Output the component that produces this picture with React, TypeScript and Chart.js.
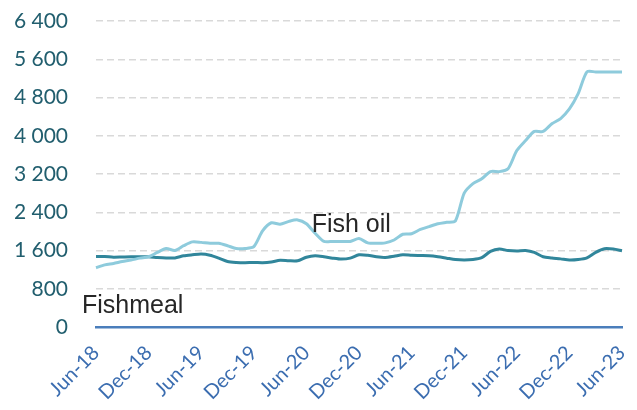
import React, { useEffect, useRef } from "react";
import { Chart, registerables } from "chart.js";

Chart.register(...registerables);

const months: string[] = [
  "Jun-18", "Jul-18", "Aug-18", "Sep-18", "Oct-18", "Nov-18",
  "Dec-18", "Jan-19", "Feb-19", "Mar-19", "Apr-19", "May-19",
  "Jun-19", "Jul-19", "Aug-19", "Sep-19", "Oct-19", "Nov-19",
  "Dec-19", "Jan-20", "Feb-20", "Mar-20", "Apr-20", "May-20",
  "Jun-20", "Jul-20", "Aug-20", "Sep-20", "Oct-20", "Nov-20",
  "Dec-20", "Jan-21", "Feb-21", "Mar-21", "Apr-21", "May-21",
  "Jun-21", "Jul-21", "Aug-21", "Sep-21", "Oct-21", "Nov-21",
  "Dec-21", "Jan-22", "Feb-22", "Mar-22", "Apr-22", "May-22",
  "Jun-22", "Jul-22", "Aug-22", "Sep-22", "Oct-22", "Nov-22",
  "Dec-22", "Jan-23", "Feb-23", "Mar-23", "Apr-23", "May-23",
  "Jun-23",
];

const fishOil: number[] = [
  1240, 1300, 1330, 1370, 1400, 1440,
  1470, 1560, 1640, 1600, 1700, 1780,
  1770, 1750, 1750, 1700, 1640, 1640,
  1680, 2010, 2180, 2150, 2210, 2240,
  2160, 1960, 1790, 1790, 1790, 1790,
  1850, 1760, 1750, 1760, 1820, 1940,
  1950, 2040, 2100, 2160, 2190, 2220,
  2800, 3000, 3100, 3250, 3250, 3310,
  3690, 3900, 4090, 4090, 4250, 4360,
  4560, 4880, 5335, 5335, 5335, 5335,
  5335,
];

const fishmeal: number[] = [
  1475, 1475, 1460, 1465, 1470, 1470,
  1470, 1455, 1445, 1445, 1490, 1510,
  1525, 1500, 1440, 1370, 1350, 1345,
  1350, 1345, 1360, 1395, 1385, 1385,
  1460, 1490, 1470, 1440, 1420, 1440,
  1510, 1500, 1470, 1455, 1480, 1510,
  1500, 1495, 1490, 1470, 1440, 1410,
  1400, 1410, 1450, 1580, 1630, 1600,
  1590, 1600, 1560, 1470, 1445, 1425,
  1400, 1410, 1445, 1560, 1637, 1630,
  1595,
];

const seriesNames: string[] = ["Fish oil", "Fishmeal"];
const annotationX: number[] = [24.6, -1.6];
const annotationY: number[] = [1990, 290];

const yMin = 0;
const yMax = 6400;
const yStep = 800;

function fmt(v: number): string {
  return String(v).replace(/\B(?=(\d{3})+(?!\d))/g, " ");
}

const annotationPlugin = {
  id: "textAnnotations",
  afterDatasetsDraw(chart: any) {
    const { ctx, scales } = chart;
    ctx.save();
    ctx.font = '25px "Liberation Sans", Arial, sans-serif';
    ctx.fillStyle = "#262626";
    ctx.textAlign = "left";
    ctx.textBaseline = "alphabetic";
    seriesNames.forEach((name, i) => {
      const x = scales.x.getPixelForValue(annotationX[i]);
      const y = scales.y.getPixelForValue(annotationY[i]);
      ctx.fillText(name, x, y);
    });
    ctx.restore();
  },
};

export default function App() {
  const canvasRef = useRef<HTMLCanvasElement | null>(null);

  useEffect(() => {
    if (!canvasRef.current) return;
    const chart = new Chart(canvasRef.current, {
      type: "line",
      data: {
        labels: months,
        datasets: [
          {
            label: seriesNames[0],
            data: fishOil,
            borderColor: "#8ecbdc",
            borderWidth: 3,
            pointRadius: 0,
            tension: 0.25,
            fill: false,
          },
          {
            label: seriesNames[1],
            data: fishmeal,
            borderColor: "#31869b",
            borderWidth: 3,
            pointRadius: 0,
            tension: 0.25,
            fill: false,
          },
        ],
      },
      options: {
        animation: false,
        responsive: true,
        maintainAspectRatio: false,
        layout: { padding: { left: 0, right: 15, top: 21, bottom: 0 } },
        plugins: {
          legend: { display: false },
          tooltip: { enabled: false },
        },
        scales: {
          x: {
            type: "category",
            offset: false,
            grid: { display: false, drawTicks: false },
            border: { display: true, color: "#4a7ebb", width: 2.5 },
            ticks: {
              autoSkip: false,
              maxRotation: 45,
              minRotation: 45,
              padding: 14,
              color: "#3b6db0",
              font: { family: "Lato", size: 20 },
              callback: (_v: any, i: number) => (i % 6 === 0 ? months[i] : ""),
            },
            afterFit: (scale: any) => {
              scale.height = 83;
              scale.paddingLeft = 0;
              scale.paddingRight = 0;
              scale.paddingTop = 0;
              scale.paddingBottom = 0;
            },
          },
          y: {
            min: yMin,
            max: yMax,
            grid: {
              color: "#d9d9d9",
              lineWidth: 1.5,
              drawTicks: false,
            },
            border: { display: false, dash: [7, 4] },
            ticks: {
              stepSize: yStep,
              padding: 28,
              color: "#215e6e",
              font: { family: "Lato", size: 21 },
              callback: (v: any) => fmt(Number(v)),
            },
            afterFit: (scale: any) => {
              scale.width = 96;
              scale.paddingTop = 0;
              scale.paddingBottom = 0;
              scale.paddingLeft = 0;
              scale.paddingRight = 0;
            },
          },
        },
      },
      plugins: [annotationPlugin],
    });
    return () => chart.destroy();
  }, []);

  return (
    <div style={{ position: "absolute", left: 0, top: 0, width: 637, height: 410 }}>
      <canvas ref={canvasRef} />
    </div>
  );
}
